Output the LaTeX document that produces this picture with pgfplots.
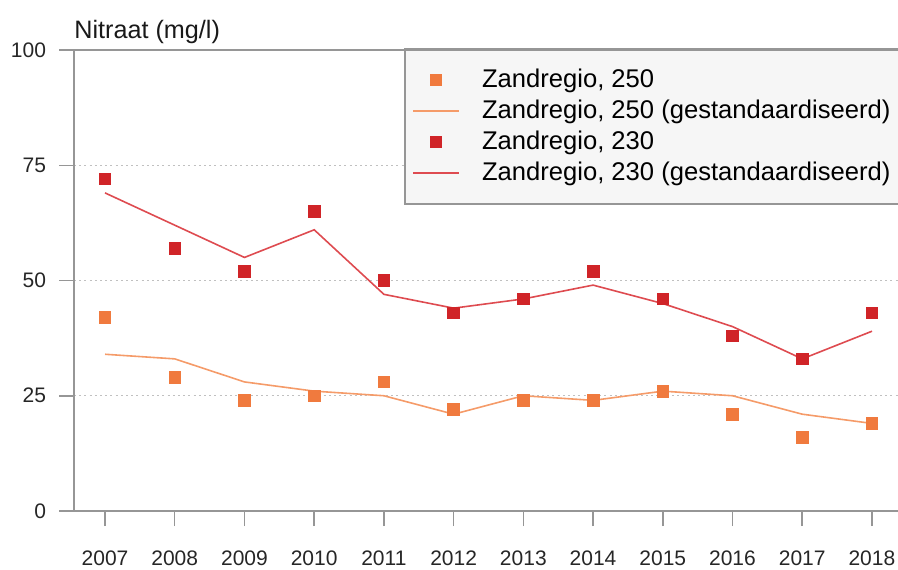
\documentclass[border=0pt]{standalone}
\usepackage{pgfplots}
\usepackage{pgfplotstable}
\pgfplotsset{compat=1.18}
\usepackage{fontspec}
\setmainfont{Liberation Sans}
\definecolor{org}{RGB}{240,122,62}
\definecolor{orgl}{RGB}{245,155,105}
\definecolor{rd}{RGB}{208,36,40}
\definecolor{rdl}{RGB}{222,75,80}
\definecolor{axg}{RGB}{150,150,150}
\definecolor{legbg}{RGB}{246,246,246}
\pgfplotsset{
  markleg/.style={legend image code/.code={\path[draw=none, fill=none] (0pt,0pt) -- (23pt,0pt); \path[draw=none, fill=#1] (8.6pt,-2.9pt) rectangle (14.4pt,2.9pt);}},
  lineleg/.style={legend image code/.code={\draw[color=#1, line width=0.8pt] (0pt,0pt) -- (23pt,0pt);}},
}
\pgfplotstableread{
year o250 o250s r230 r230s
2007 42 34 72 69
2008 29 33 57 62
2009 24 28 52 55
2010 25 26 65 61
2011 28 25 50 47
2012 22 21 43 44
2013 24 25 46 46
2014 24 24 52 49
2015 26 26 46 45
2016 21 25 38 40
2017 16 21 33 33
2018 19 19 43 39
}\data
\begin{document}
\begin{tikzpicture}
\begin{axis}[
  at={(37pt,29pt)}, anchor=south west,
  scale only axis, width=412pt, height=230.5pt,
  xmin=2006.555, xmax=2018.373, ymin=0, ymax=100,
  axis lines*=left,
  axis line style={axg, line width=0.75pt},
  ytick={0,25,50,75,100}, xtick={2007,...,2018},
  tick align=outside, major tick length=7.5pt,
  tick style={axg, line width=0.75pt},
  ymajorgrids,
  grid style={axg!60, dash pattern=on 1pt off 1.6pt, line width=0.5pt},
  /pgf/number format/assume math mode=true,
  /pgf/number format/1000 sep={},
  tick label style={font=\fontsize{10.5}{12}\selectfont, text=black!85},
  xticklabel style={yshift=-9pt},
  yticklabel style={xshift=-3pt},
  clip=false,
  legend cell align=left,
  legend style={at={(0.4017,1.003)}, anchor=north west,
    draw=none, fill=none,
    font=\fontsize{12.8}{14}\selectfont,
    inner xsep=3.5pt, inner ysep=8pt, row sep=0.5pt, column sep=11pt,
    nodes={inner sep=0pt, text height=11pt, text depth=4pt}},
]
\fill[legbg] (rel axis cs:0.4017,1.003) rectangle (rel axis cs:1,0.666);
\draw[axg, line width=0.75pt] (rel axis cs:1,1.003) -- (rel axis cs:0.4017,1.003) -- (rel axis cs:0.4017,0.666) -- (rel axis cs:1,0.666);
\addplot[only marks, mark=square*, mark size=2.9pt, color=org, markleg=org]
  table[x=year, y=o250] {\data};
\addlegendentry{Zandregio, 250}
\addplot[orgl, line width=0.8pt, mark=none, lineleg=orgl]
  table[x=year, y=o250s] {\data};
\addlegendentry{Zandregio, 250 (gestandaardiseerd)}
\addplot[only marks, mark=square*, mark size=2.9pt, color=rd, markleg=rd]
  table[x=year, y=r230] {\data};
\addlegendentry{Zandregio, 230}
\addplot[rdl, line width=0.8pt, mark=none, lineleg=rdl]
  table[x=year, y=r230s] {\data};
\addlegendentry{Zandregio, 230 (gestandaardiseerd)}
\addplot[forget plot, only marks, mark=square*, mark size=2.9pt, color=org] table[x=year, y=o250] {\data};
\addplot[forget plot, only marks, mark=square*, mark size=2.9pt, color=rd] table[x=year, y=r230] {\data};
\draw[axg, line width=0.75pt] (rel axis cs:0,1) -- (rel axis cs:1,1);
\node[anchor=base west, inner sep=0pt, font=\fontsize{12.6}{14}\selectfont, text=black!90]
  at ([yshift=5.5pt]rel axis cs:0,1) {Nitraat (mg/l)};
\end{axis}
\pgfresetboundingbox
\path[use as bounding box] (0,0) rectangle (449pt,284.5pt);
\end{tikzpicture}
\end{document}
